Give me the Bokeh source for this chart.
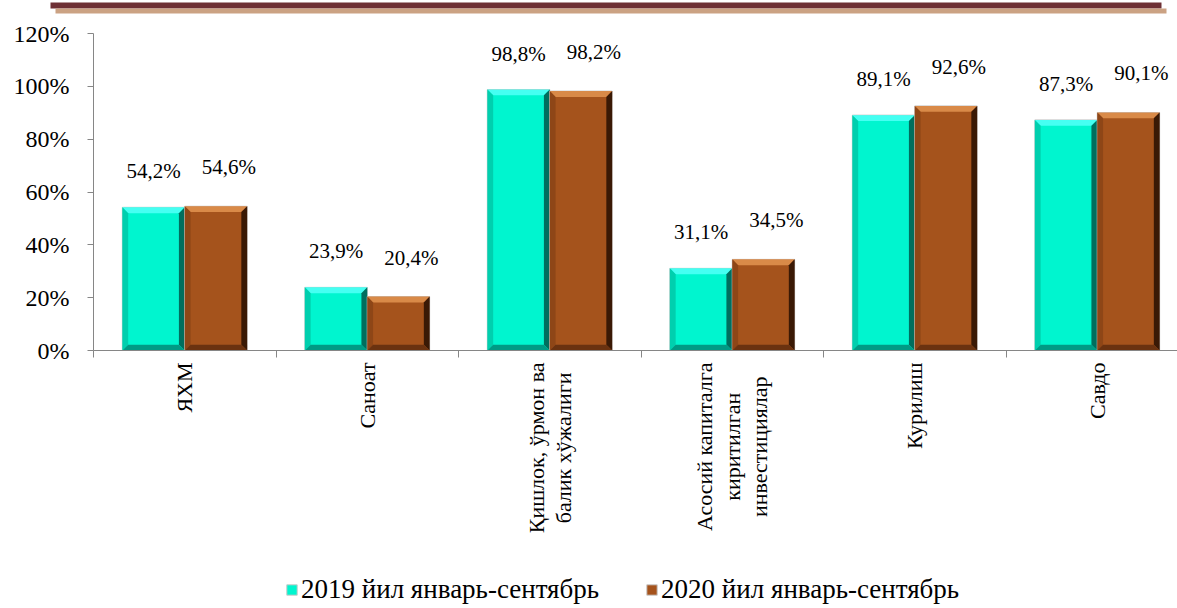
import math
from bokeh.plotting import figure
from bokeh.models import (ColumnDataSource, FixedTicker, LabelSet, Label, Legend, LegendItem,
                          BoxAnnotation, Range1d)
from bokeh.embed import file_html
from bokeh.resources import INLINE

categories = ["ЯХМ", "Саноат", "Қишлок, ўрмон ва\nбалик хўжалиги",
              "Асосий капиталга\nкиритилган\nинвестициялар", "Курилиш", "Савдо"]
series_2019 = [54.2, 23.9, 98.8, 31.1, 89.1, 87.3]
series_2020 = [54.6, 20.4, 98.2, 34.5, 92.6, 90.1]
series_names = ["2019 йил январь-сентябрь", "2020 йил январь-сентябрь"]
y_ticks = [0, 20, 40, 60, 80, 100, 120]

FONT = "Liberation Serif"
BAR_W = 0.342
OFF = 0.171
DX = 0.032
DY = 2.2

face = ["#00F5CF", "#A5531C"]
top_c = ["#45FFF2", "#D98A48"]
left_c = ["#00CFAE", "#8E4617"]
right_c = ["#006E5E", "#3A1905"]
bottom_c = ["#009A84", "#6A3210"]

n = len(categories)
centers = [i + 0.5 for i in range(n)]

W, H = 1177, 608
PX_X = 182.5          # pixels per category
PX_Y = 317 / 120.0    # pixels per percent
LEFT = 93             # frame x of the value axis
ZERO = 350            # frame y of the zero line
x_rng = Range1d(-LEFT / PX_X, (W - LEFT) / PX_X)
y_rng = Range1d(-(H - ZERO) / PX_Y, ZERO / PX_Y)

p = figure(width=W, height=H, x_range=x_rng, y_range=y_rng,
           output_backend="svg", toolbar_location=None,
           min_border_left=0, min_border_right=0, min_border_top=0, min_border_bottom=0)
p.outline_line_color = None
p.xgrid.grid_line_color = None
p.ygrid.grid_line_color = None
p.background_fill_color = "white"

renderers = []
for k, vals in enumerate([series_2019, series_2020]):
    xs_c = [c + (-OFF if k == 0 else OFF) for c in centers]
    src = ColumnDataSource(dict(x=xs_c, top=vals,
                                lab=[f"{v:.1f}%".replace(".", ",") for v in vals]))
    r = p.vbar(x="x", top="top", width=BAR_W, bottom=0, source=src,
               fill_color=face[k], line_color="#C8C8C8", line_width=1)
    renderers.append(r)
    tx, ty, lx, ly, rx, ry, bx, by = [], [], [], [], [], [], [], []
    for xc, v in zip(xs_c, vals):
        l, rr = xc - BAR_W / 2, xc + BAR_W / 2
        tx.append([l, rr, rr - DX, l + DX]); ty.append([v, v, v - DY, v - DY])
        lx.append([l, l, l + DX, l + DX]); ly.append([0, v, v - DY, DY])
        rx.append([rr, rr, rr - DX, rr - DX]); ry.append([v, 0, DY, v - DY])
        bx.append([l, rr, rr - DX, l + DX]); by.append([0, 0, DY, DY])
    p.patches(tx, ty, fill_color=top_c[k], line_color=None)
    p.patches(lx, ly, fill_color=left_c[k], line_color=None)
    p.patches(rx, ry, fill_color=right_c[k], line_color=None)
    p.patches(bx, by, fill_color=bottom_c[k], line_color=None)
    p.add_layout(LabelSet(x="x", y="top", text="lab", source=src, text_align="center",
                          text_baseline="middle", x_offset=(0 if k == 0 else 13),
                          y_offset=(36 if k == 0 else 39),
                          text_font=FONT, text_font_size="21px", text_color="black"))

# category axis, drawn at the zero line (its names are set as centred labels below)
xa = p.xaxis[0]
xa.fixed_location = 0
xa.bounds = (0, x_rng.end)
xa.ticker = FixedTicker(ticks=centers, minor_ticks=list(range(0, n + 1)))
xa.major_label_text_color = None
xa.major_tick_line_color = None
xa.major_tick_out = 0
xa.major_tick_in = 0
xa.minor_tick_out = 7
xa.minor_tick_in = 0
xa.minor_tick_line_color = "#868686"
xa.axis_line_color = "#868686"

for c, lab in zip(centers, categories):
    p.add_layout(Label(x=c, y=0, text=lab, angle=math.pi / 2, anchor="center_right",
                       text_align="center", y_offset=-12,
                       text_font=FONT, text_font_size="22px", text_color="black",
                       text_line_height=1.1))

# value axis, drawn at x = 0
ya = p.yaxis[0]
ya.fixed_location = 0
ya.ticker = FixedTicker(ticks=y_ticks)
ya.major_label_overrides = {t: f"{t}%" for t in y_ticks}
ya.bounds = (0, 120)
ya.axis_line_color = "#868686"
ya.major_tick_line_color = "#868686"
ya.major_tick_out = 6
ya.major_tick_in = 0
ya.minor_tick_line_color = None
ya.major_label_standoff = 18
ya.major_label_text_font = FONT
ya.major_label_text_font_size = "24px"
ya.major_label_text_color = "black"

# decorative top rule (screen y measured from the bottom)
p.add_layout(BoxAnnotation(left=50, right=1161, top=H - 2, bottom=H - 8, left_units="screen",
                           right_units="screen", top_units="screen", bottom_units="screen",
                           fill_color="#6E3035", fill_alpha=1, line_color=None))
p.add_layout(BoxAnnotation(left=55, right=1166, top=H - 8, bottom=H - 13, left_units="screen",
                           right_units="screen", top_units="screen", bottom_units="screen",
                           fill_color="#CBA283", fill_alpha=1, line_color=None))

legend = Legend(items=[LegendItem(label=series_names[i], renderers=[renderers[i]]) for i in range(2)],
                orientation="horizontal", location=(285, 3),
                label_text_font=FONT, label_text_font_size="27px", label_text_color="black",
                glyph_width=13, glyph_height=13, spacing=46, label_standoff=3,
                border_line_color=None, background_fill_alpha=0, margin=0, padding=0)
p.add_layout(legend, "center")

open("out.html", "w").write(file_html(p, INLINE))
